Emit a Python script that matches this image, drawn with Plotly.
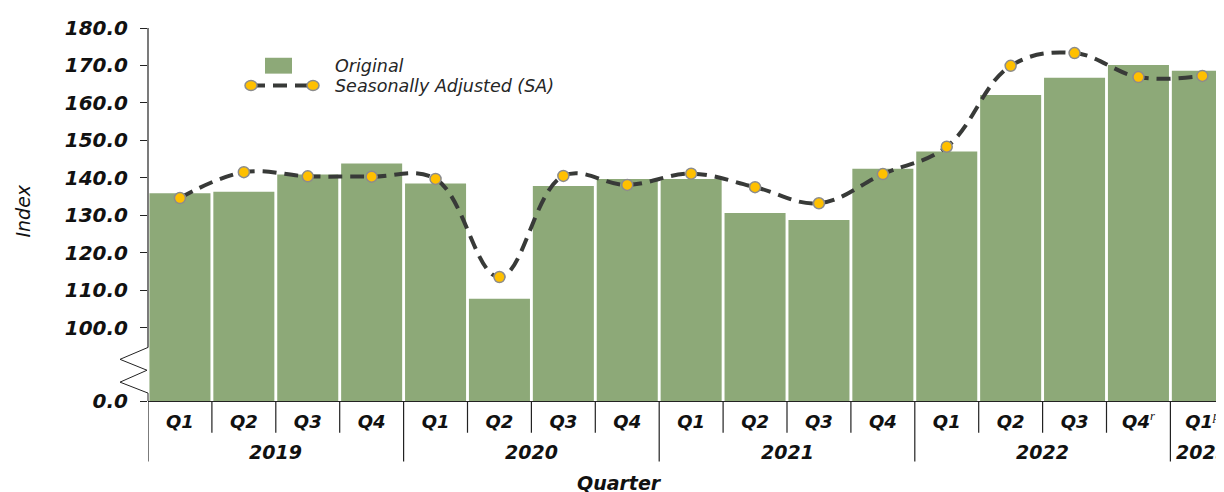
import plotly.graph_objects as go

# ---------------- data ----------------
quarters = ["Q1", "Q2", "Q3", "Q4", "Q1", "Q2", "Q3", "Q4", "Q1", "Q2", "Q3", "Q4", "Q1", "Q2", "Q3", "Q4", "Q1"]
marks = ["", "", "", "", "", "", "", "", "", "", "", "", "", "", "", "r", "p"]
years = ["2019", "2020", "2021", "2022", "2023"]
year_sizes = [4, 4, 4, 4, 1]
original = [135.9, 136.3, 140.9, 143.8, 138.5, 107.7, 137.8, 139.7, 139.7, 130.6, 128.7, 142.4, 147.0, 162.1, 166.7, 170.1, 168.6]
sa = [134.6, 141.5, 140.4, 140.3, 139.7, 113.5, 140.5, 138.1, 141.1, 137.5, 133.2, 141.0, 148.3, 169.9, 173.3, 166.9, 167.2]
ytick_vals = [100, 110, 120, 130, 140, 150, 160, 170, 180]
axis_floor = 80.4  # value drawn as "0.0" below the axis break
legend_names = ["Original", "Seasonally Adjusted (SA)"]

# ---------------- style ----------------
BAR = "#8DA978"
LINE = "#383A38"
GOLD = "#FFC000"
OFF = 8  # page body margin offset
W, H = 1224, 492
# target plot area in window pixels: x 148..1224, y 25..401
ML, MT = 148 - OFF, 25 - OFF
MR = W - (1224 - OFF)
MB = H - (401 - OFF)
PW, PH = W - ML - MR, H - MT - MB
CAT_W = 63.9

def px_x(p):  # window pixel -> paper
    return (p - 148) / PW

def px_y(p):
    return (401 - p) / PH

xs = list(range(len(quarters)))
ticktext = []
for q, m in zip(quarters, marks):
    if m:
        ticktext.append(q + "<sup><span style='font-family:Liberation Serif;font-weight:normal'>" + m + "</span></sup>")
    else:
        ticktext.append(q)

fig = go.Figure()
fig.add_trace(go.Bar(x=xs, y=original, marker=dict(color=BAR, line=dict(width=0)),
                     name=legend_names[0], showlegend=False))
fig.add_trace(go.Scatter(x=xs, y=sa, mode="lines+markers", name=legend_names[1], showlegend=False,
                         line=dict(color=LINE, width=4, dash="14px,8px", shape="spline", smoothing=1.1),
                         marker=dict(color=GOLD, size=11, line=dict(color="#8C8C8C", width=1.5))))

tickfont = dict(family="DejaVu Sans", size=20, color="#111111", weight="bold", style="italic")

fig.update_layout(
    width=W, height=H, margin=dict(l=ML, r=MR, t=MT, b=MB),
    plot_bgcolor="white", paper_bgcolor="white", bargap=0.045,
    xaxis=dict(range=[-0.5, -0.5 + PW / CAT_W], tickvals=xs, ticktext=ticktext, ticks="",
               showgrid=False, zeroline=False, showline=True, linecolor="#222222", linewidth=1.2,
               tickfont=dict(family="DejaVu Sans", size=18, color="#111111", weight="bold", style="italic"),
               ticklabelstandoff=4),
    yaxis=dict(range=[axis_floor, 180], tickvals=[axis_floor] + ytick_vals,
               ticktext=["0.0"] + [f"{v:.1f}" for v in ytick_vals],
               ticks="outside", ticklen=7, tickcolor="#222222", tickwidth=1,
               showgrid=False, zeroline=False, showline=False, tickfont=tickfont, ticklabelstandoff=8),
)

shapes = []
axc = "#222222"
shapes.append(dict(type="line", xref="paper", yref="paper", x0=0, x1=0, y0=px_y(347), y1=1,
                   line=dict(color=axc, width=1.2)))
zig = [(148, 347), (120, 359), (147, 370), (120, 382), (148, 393), (148, 401)]
path = "M " + " L ".join(f"{px_x(a):.5f},{px_y(b):.5f}" for a, b in zig)
shapes.append(dict(type="path", xref="paper", yref="paper", path=path, line=dict(color=axc, width=1)))

year_starts = []
acc = 0
for s in year_sizes:
    year_starts.append(acc)
    acc += s
for k in range(len(quarters) + 1):
    bottom = 462 if k in year_starts or k == len(quarters) else 433
    shapes.append(dict(type="line", xref="x", yref="paper", x0=k - 0.5, x1=k - 0.5,
                       y0=0, y1=px_y(bottom), line=dict(color=axc, width=1.2)))

# custom legend
shapes.append(dict(type="rect", xref="paper", yref="paper", x0=px_x(265), x1=px_x(292),
                   y0=px_y(71), y1=px_y(55), fillcolor=BAR, line=dict(width=0)))
shapes.append(dict(type="line", xref="paper", yref="paper", x0=px_x(251), x1=px_x(313),
                   y0=px_y(83), y1=px_y(83), line=dict(color=LINE, width=4, dash="14px,8px")))
for cx in (251, 313):
    shapes.append(dict(type="circle", xref="paper", yref="paper", x0=px_x(cx - 6), x1=px_x(cx + 6),
                       y0=px_y(88), y1=px_y(78), fillcolor=GOLD, line=dict(color="#8C8C8C", width=1.5)))
fig.update_layout(shapes=shapes)

ann = []
for yr, st, sz in zip(years, year_starts, year_sizes):
    ann.append(dict(text=yr, xref="x", yref="paper", x=st + (sz - 1) / 2, y=px_y(452),
                    showarrow=False, yanchor="middle", xanchor="center",
                    font=dict(family="DejaVu Sans", size=19, color="#111111", weight="bold", style="italic")))
ann.append(dict(text="Quarter", xref="paper", yref="paper", x=px_x(619), y=px_y(484), showarrow=False,
                yanchor="middle", xanchor="center",
                font=dict(family="DejaVu Sans", size=19, color="#111111", weight="bold", style="italic")))
ann.append(dict(text="Index", xref="paper", yref="paper", x=px_x(23), y=px_y(210), showarrow=False,
                textangle=-90, yanchor="middle", xanchor="center",
                font=dict(family="DejaVu Sans", size=19, color="#111111", style="italic")))
legend_font = dict(family="DejaVu Sans", size=17.5, color="#262626", style="italic")
ann.append(dict(text=legend_names[0], xref="paper", yref="paper", x=px_x(333), y=px_y(63), showarrow=False,
                xanchor="left", yanchor="middle", font=legend_font))
ann.append(dict(text=legend_names[1], xref="paper", yref="paper", x=px_x(333), y=px_y(83), showarrow=False,
                xanchor="left", yanchor="middle", font=legend_font))
fig.update_layout(annotations=ann)

fig.write_html("out.html")
